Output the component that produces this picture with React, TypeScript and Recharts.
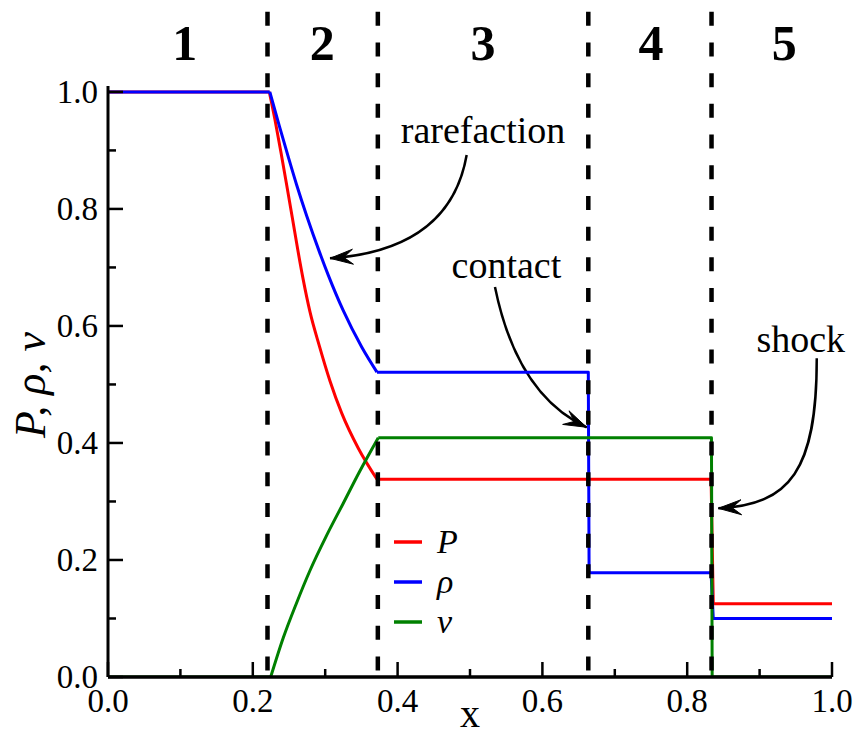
import React from 'react';
import { LineChart, Line, XAxis, YAxis, ReferenceLine, Customized } from 'recharts';

// Chart geometry
const W = 855;
const H = 738;
const MARGIN = { top: 10, right: 23, bottom: 0, left: 0 };
const YAXIS_W = 108;
const XAXIS_H = 61;
const Y_MAX = 1.14;
const FONT = '"Liberation Serif", "Times New Roman", serif';

// Axis ticks (major ticks carry a label, minor ones are blank)
const X_TICKS = [0, 0.1, 0.2, 0.3, 0.4, 0.5, 0.6, 0.7, 0.8, 0.9, 1.0];
const X_TICK_LABELS = ['0.0', '', '0.2', '', '0.4', '', '0.6', '', '0.8', '', '1.0'];
const Y_TICKS = [0, 0.1, 0.2, 0.3, 0.4, 0.5, 0.6, 0.7, 0.8, 0.9, 1.0];
const Y_TICK_LABELS = ['0.0', '', '0.2', '', '0.4', '', '0.6', '', '0.8', '', '1.0'];

// Pressure
const pressure = [
  { x: 0, y: 1.0 },
  { x: 0.2228, y: 1.0 },
  { x: 0.2307, y: 0.952 },
  { x: 0.239, y: 0.896 },
  { x: 0.2468, y: 0.841 },
  { x: 0.2546, y: 0.785 },
  { x: 0.262, y: 0.731 },
  { x: 0.2695, y: 0.68 },
  { x: 0.279, y: 0.624 },
  { x: 0.2919, y: 0.566 },
  { x: 0.3066, y: 0.506 },
  { x: 0.3228, y: 0.451 },
  { x: 0.3457, y: 0.391 },
  { x: 0.3715, y: 0.338 },
  { x: 0.833, y: 0.338 },
  { x: 0.836, y: 0.125 },
  { x: 1.0, y: 0.125 },
];

// Density
const density = [
  { x: 0, y: 1.0 },
  { x: 0.2235, y: 1.0 },
  { x: 0.2366, y: 0.942 },
  { x: 0.249, y: 0.889 },
  { x: 0.2606, y: 0.841 },
  { x: 0.2745, y: 0.788 },
  { x: 0.2919, y: 0.727 },
  { x: 0.3045, y: 0.686 },
  { x: 0.325, y: 0.626 },
  { x: 0.3504, y: 0.564 },
  { x: 0.3715, y: 0.521 },
  { x: 0.6634, y: 0.521 },
  { x: 0.6645, y: 0.178 },
  { x: 0.833, y: 0.178 },
  { x: 0.836, y: 0.1 },
  { x: 1.0, y: 0.1 },
];

// Velocity
const velocity = [
  { x: 0, y: 0 },
  { x: 0.2247, y: 0 },
  { x: 0.2421, y: 0.067 },
  { x: 0.2606, y: 0.127 },
  { x: 0.279, y: 0.182 },
  { x: 0.302, y: 0.242 },
  { x: 0.325, y: 0.297 },
  { x: 0.347, y: 0.35 },
  { x: 0.3733, y: 0.409 },
  { x: 0.8335, y: 0.409 },
  { x: 0.8345, y: 0 },
  { x: 1.0, y: 0 },
];

const SERIES = [
  { key: 'P', label: 'P', color: '#ff0000', data: pressure },
  { key: 'rho', label: 'ρ', color: '#0000ff', data: density },
  { key: 'v', label: 'v', color: '#008000', data: velocity },
];

// x-extent of the rarefaction fan: that stretch is drawn as a smooth curve
const FAN = [0.222, 0.374];

// Wave boundaries separating the five regions
const BOUNDARIES = [0.2203, 0.3727, 0.6634, 0.8336];
const REGION_LABELS = ['1', '2', '3', '4', '5'];
const REGION_X = [0.106, 0.296, 0.518, 0.75, 0.934];
const REGION_Y = 1.0545;

// Annotations: text position and a curved arrow (start, control points, tip)
const ANNOTATIONS = [
  {
    text: 'rarefaction',
    at: [0.518, 0.912],
    path: [[0.4954, 0.8922], [0.4724, 0.7298], [0.3066, 0.7156]],
  },
  {
    text: 'contact',
    at: [0.5503, 0.6814],
    path: [[0.5345, 0.6666], [0.5649, 0.482], [0.6612, 0.4268]],
  },
  {
    text: 'shock',
    at: [0.9569, 0.556],
    path: [[0.9789, 0.5447], [0.9793, 0.3538], [0.942, 0.294], [0.843, 0.2883]],
  },
];

const PLOT_LEFT = MARGIN.left + YAXIS_W;
const PLOT_RIGHT = W - MARGIN.right;
const PLOT_TOP = MARGIN.top;
const PLOT_BOTTOM = H - MARGIN.bottom - XAXIS_H;
const px = (x: number) => PLOT_LEFT + x * (PLOT_RIGHT - PLOT_LEFT);
const py = (y: number) => PLOT_BOTTOM - (y / Y_MAX) * (PLOT_BOTTOM - PLOT_TOP);

// Split a series into the left state, the rarefaction fan and everything right of it
function splitSeries(data: { x: number; y: number }[]) {
  const fan = data.filter((p) => p.x >= FAN[0] && p.x <= FAN[1]);
  const head = fan[0].x;
  const tail = fan[fan.length - 1].x;
  return {
    left: data.filter((p) => p.x <= head),
    fan,
    right: data.filter((p) => p.x >= tail),
  };
}

const findIdx = (ticks: number[], v: number) => ticks.findIndex((t) => Math.abs(t - v) < 1e-6);

const XTick = (props: any) => {
  const { x, y, payload } = props;
  const i = findIdx(X_TICKS, payload.value);
  const label = X_TICK_LABELS[i] || '';
  const major = label !== '';
  return (
    <g>
      <line x1={x} y1={y} x2={x} y2={y - (major ? 15 : 8)} stroke="#000" strokeWidth={2.5} />
      {major && (
        <text x={x} y={y + 35} textAnchor="middle" fontFamily={FONT} fontSize={33} fill="#000">
          {label}
        </text>
      )}
    </g>
  );
};

const YTick = (props: any) => {
  const { x, y, payload } = props;
  const i = findIdx(Y_TICKS, payload.value);
  const label = Y_TICK_LABELS[i] || '';
  const major = label !== '';
  return (
    <g>
      <line x1={x} y1={y} x2={x + (major ? 15 : 8)} y2={y} stroke="#000" strokeWidth={2.5} />
      {major && (
        <text x={x - 10} y={y + 11} textAnchor="end" fontFamily={FONT} fontSize={33} fill="#000">
          {label}
        </text>
      )}
    </g>
  );
};

function arrowHead(tx: number, ty: number, fx: number, fy: number) {
  const dx = tx - fx;
  const dy = ty - fy;
  const len = Math.hypot(dx, dy) || 1;
  const ux = dx / len;
  const uy = dy / len;
  const L = 23;
  const hw = 7.5;
  const bx = tx - ux * L;
  const by = ty - uy * L;
  const nx = -uy;
  const ny = ux;
  const notchX = tx - ux * L * 0.6;
  const notchY = ty - uy * L * 0.6;
  return `M${tx},${ty} L${bx + nx * hw},${by + ny * hw} L${notchX},${notchY} L${bx - nx * hw},${by - ny * hw} Z`;
}

const Overlay = () => {
  return (
    <g>
      {REGION_LABELS.map((r, i) => (
        <text
          key={r}
          x={px(REGION_X[i])}
          y={py(REGION_Y)}
          textAnchor="middle"
          fontFamily={FONT}
          fontWeight="bold"
          fontSize={50}
          fill="#000"
        >
          {r}
        </text>
      ))}
      {ANNOTATIONS.map((a) => {
        const pts = a.path.map(([x, y]) => [px(x), py(y)]);
        const d =
          pts.length === 3
            ? `M${pts[0][0]},${pts[0][1]} Q${pts[1][0]},${pts[1][1]} ${pts[2][0]},${pts[2][1]}`
            : `M${pts[0][0]},${pts[0][1]} C${pts[1][0]},${pts[1][1]} ${pts[2][0]},${pts[2][1]} ${pts[3][0]},${pts[3][1]}`;
        const tip = pts[pts.length - 1];
        const prev = pts[pts.length - 2];
        return (
          <g key={a.text}>
            <text
              x={px(a.at[0])}
              y={py(a.at[1])}
              textAnchor="middle"
              fontFamily={FONT}
              fontSize={38}
              fill="#000"
            >
              {a.text}
            </text>
            <path d={d} fill="none" stroke="#000" strokeWidth={2.5} />
            <path d={arrowHead(tip[0], tip[1], prev[0], prev[1])} fill="#000" stroke="#000" strokeWidth={1} strokeLinejoin="miter" />
          </g>
        );
      })}
      {SERIES.map((s, i) => {
        const yy = 542 + i * 40;
        return (
          <g key={s.key}>
            <line x1={394} y1={yy} x2={422} y2={yy} stroke={s.color} strokeWidth={3.5} />
            <text x={437} y={yy + 11} fontFamily={FONT} fontStyle="italic" fontSize={34} fill="#000">
              {s.label}
            </text>
          </g>
        );
      })}
      <text x={470} y={727} textAnchor="middle" fontFamily={FONT} fontSize={40} fill="#000">
        x
      </text>
      <text
        x={45}
        y={385}
        transform="rotate(-90 45 385)"
        textAnchor="middle"
        fontFamily={FONT}
        fontStyle="italic"
        fontSize={44}
        fill="#000"
      >
        P, ρ, v
      </text>
    </g>
  );
};

export default function App() {
  const parts = SERIES.map((s) => ({ ...s, ...splitSeries(s.data) }));
  return (
    <div style={{ position: 'absolute', left: 0, top: 0, width: W, height: H, background: '#fff' }}>
      <LineChart width={W} height={H} margin={MARGIN}>
        <XAxis
          type="number"
          dataKey="x"
          domain={[0, 1]}
          ticks={X_TICKS}
          interval={0}
          height={XAXIS_H}
          tickSize={0}
          tickMargin={0}
          tickLine={false}
          tick={XTick}
          axisLine={{ stroke: '#000', strokeWidth: 3 }}
          allowDataOverflow
        />
        <YAxis
          type="number"
          domain={[0, Y_MAX]}
          ticks={Y_TICKS}
          interval={0}
          width={YAXIS_W}
          tickSize={0}
          tickMargin={0}
          tickLine={false}
          tick={YTick}
          axisLine={false}
          allowDataOverflow
        />
        {parts.map((s) =>
          (['left', 'fan', 'right'] as const).map((part) => (
            <Line
              key={`${s.key}-${part}`}
              data={s[part]}
              dataKey="y"
              name={s.label}
              type={part === 'fan' ? 'monotoneX' : 'linear'}
              stroke={s.color}
              strokeWidth={3}
              strokeLinejoin="round"
              dot={false}
              activeDot={false}
              isAnimationActive={false}
            />
          ))
        )}
        {BOUNDARIES.map((b) => (
          <ReferenceLine
            key={b}
            segment={[
              { x: b, y: 1.137 },
              { x: b, y: 0 },
            ]}
            stroke="#000"
            strokeWidth={4.5}
            strokeDasharray="14 16.7"
          />
        ))}
        <ReferenceLine
          segment={[
            { x: 0, y: 0 },
            { x: 0, y: 1.01 },
          ]}
          stroke="#000"
          strokeWidth={3}
        />
        <ReferenceLine
          segment={[
            { x: 0, y: 0 },
            { x: 1, y: 0 },
          ]}
          stroke="#000"
          strokeWidth={3}
        />
        <Customized component={Overlay} />
      </LineChart>
    </div>
  );
}
